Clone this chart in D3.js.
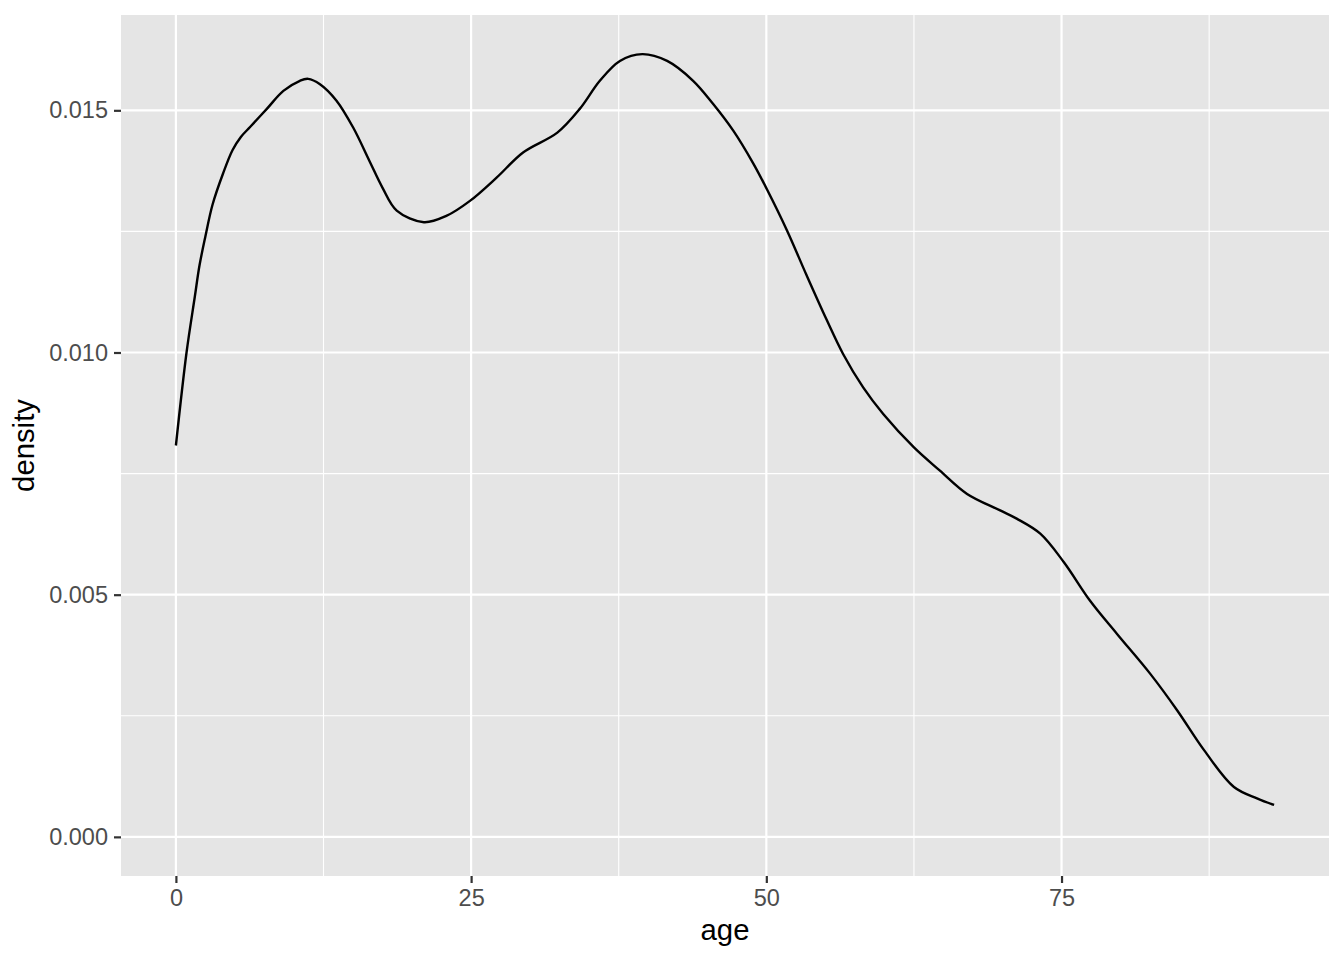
<!DOCTYPE html>
<html>
<head>
<meta charset="utf-8">
<script src="https://cdn.jsdelivr.net/npm/d3@7"></script>
<style>
  body { margin: 0; background: #fff; }
  text { font-family: "Liberation Sans", Arial, Helvetica, sans-serif; }
</style>
</head>
<body>
<div id="chart"></div>
<script>
// density curve
var ages = [0, 0.9, 1.6, 2.0, 2.5, 3.1, 4.0, 4.8, 5.5, 6.3, 7.7, 9.1, 10.5, 11.2, 12.2, 13.6, 15.0,
  16.4, 17.5, 18.7, 21.0, 22.9, 24.9, 27.2, 29.4, 32.3, 34.2, 35.9, 37.6, 39.5, 41.6, 43.8,
  45.5, 47.2, 48.9, 50.05, 51.75, 53.4, 55.1, 56.5, 58.2, 59.9, 62.5, 64.7, 67.0, 69.8, 71.2,
  73.2, 75.2, 77.4, 79.7, 82.5, 84.8, 87.1, 89.6, 91.6, 93.0];
var densities = [0.00808, 0.01000, 0.01115, 0.01180, 0.01240, 0.01305, 0.01370, 0.01418, 0.01445,
  0.01466, 0.01503, 0.01540, 0.01561, 0.01565, 0.01554, 0.01520, 0.01465, 0.01395, 0.01340,
  0.01293, 0.01269, 0.01282, 0.01313, 0.01362, 0.01413, 0.01454, 0.01503, 0.01561, 0.01602,
  0.01616, 0.01602, 0.01561, 0.01513, 0.01458, 0.01390, 0.01337, 0.01252, 0.01160, 0.01068,
  0.00997, 0.00928, 0.00873, 0.00804, 0.00756, 0.00708, 0.00674, 0.00657, 0.00626, 0.00567,
  0.00488, 0.00419, 0.00337, 0.00261, 0.00178, 0.00103, 0.00079, 0.00066];
var xTicks = [0, 25, 50, 75];
var xMinor = [12.5, 37.5, 62.5, 87.5];
var yTicks = [0, 0.005, 0.010, 0.015];
var yMinor = [0.0025, 0.0075, 0.0125];

var data = ages.map(function(a, i) { return {age: a, density: densities[i]}; });

var W = 1344, H = 960;
var margin = {top: 15, right: 15, bottom: 84, left: 121},
    width = W - margin.left - margin.right,
    height = H - margin.top - margin.bottom;

var svg = d3.select("#chart")
  .append("svg")
    .attr("width", W)
    .attr("height", H);

var g = svg.append("g")
    .attr("transform", "translate(" + margin.left + "," + margin.top + ")");

// ggplot-like 5% expansion
var xMax = d3.max(ages), yMax = d3.max(densities);
var x = d3.scaleLinear()
    .domain([-0.05 * xMax, xMax * 1.05])
    .range([0, width]);
var y = d3.scaleLinear()
    .domain([-0.05 * yMax, yMax * 1.05])
    .range([height, 0]);

// panel
g.append("rect")
    .attr("width", width)
    .attr("height", height)
    .attr("fill", "#e5e5e5");

// minor grid
g.selectAll("line.xminor")
  .data(xMinor).enter().append("line")
    .attr("x1", d => x(d)).attr("x2", d => x(d))
    .attr("y1", 0).attr("y2", height)
    .attr("stroke", "#fff").attr("stroke-width", 1.1);
g.selectAll("line.yminor")
  .data(yMinor).enter().append("line")
    .attr("y1", d => y(d)).attr("y2", d => y(d))
    .attr("x1", 0).attr("x2", width)
    .attr("stroke", "#fff").attr("stroke-width", 1.1);

// major grid
g.selectAll("line.xmajor")
  .data(xTicks).enter().append("line")
    .attr("x1", d => x(d)).attr("x2", d => x(d))
    .attr("y1", 0).attr("y2", height)
    .attr("stroke", "#fff").attr("stroke-width", 2.2);
g.selectAll("line.ymajor")
  .data(yTicks).enter().append("line")
    .attr("y1", d => y(d)).attr("y2", d => y(d))
    .attr("x1", 0).attr("x2", width)
    .attr("stroke", "#fff").attr("stroke-width", 2.2);

// axes
var xAxis = g.append("g")
    .attr("transform", "translate(0," + height + ")")
    .call(d3.axisBottom(x).tickValues(xTicks).tickSize(7).tickPadding(6).tickFormat(d3.format("d")));
var yAxis = g.append("g")
    .call(d3.axisLeft(y).tickValues(yTicks).tickSize(7).tickPadding(6).tickFormat(d3.format(".3f")));

[xAxis, yAxis].forEach(function(a) {
  a.attr("font-size", null).attr("font-family", null);
  a.select(".domain").remove();
  a.selectAll(".tick line").attr("stroke", "#333").attr("stroke-width", 2.2);
  a.selectAll(".tick text")
    .attr("fill", "#4d4d4d")
    .attr("font-size", "23.5px");
});

// density line
var line = d3.line()
    .x(d => x(d.age))
    .y(d => y(d.density))
    .curve(d3.curveCatmullRom);

g.append("path")
    .datum(data)
    .attr("d", line)
    .attr("fill", "none")
    .attr("stroke", "#000")
    .attr("stroke-width", 2.4);

// axis titles
svg.append("text")
    .attr("x", margin.left + width / 2)
    .attr("y", 940)
    .attr("text-anchor", "middle")
    .attr("font-size", "29.3px")
    .attr("fill", "#000")
    .text("age");

svg.append("text")
    .attr("transform", "translate(34," + (margin.top + height / 2) + ") rotate(-90)")
    .attr("text-anchor", "middle")
    .attr("font-size", "29.3px")
    .attr("fill", "#000")
    .text("density");
</script>
</body>
</html>
